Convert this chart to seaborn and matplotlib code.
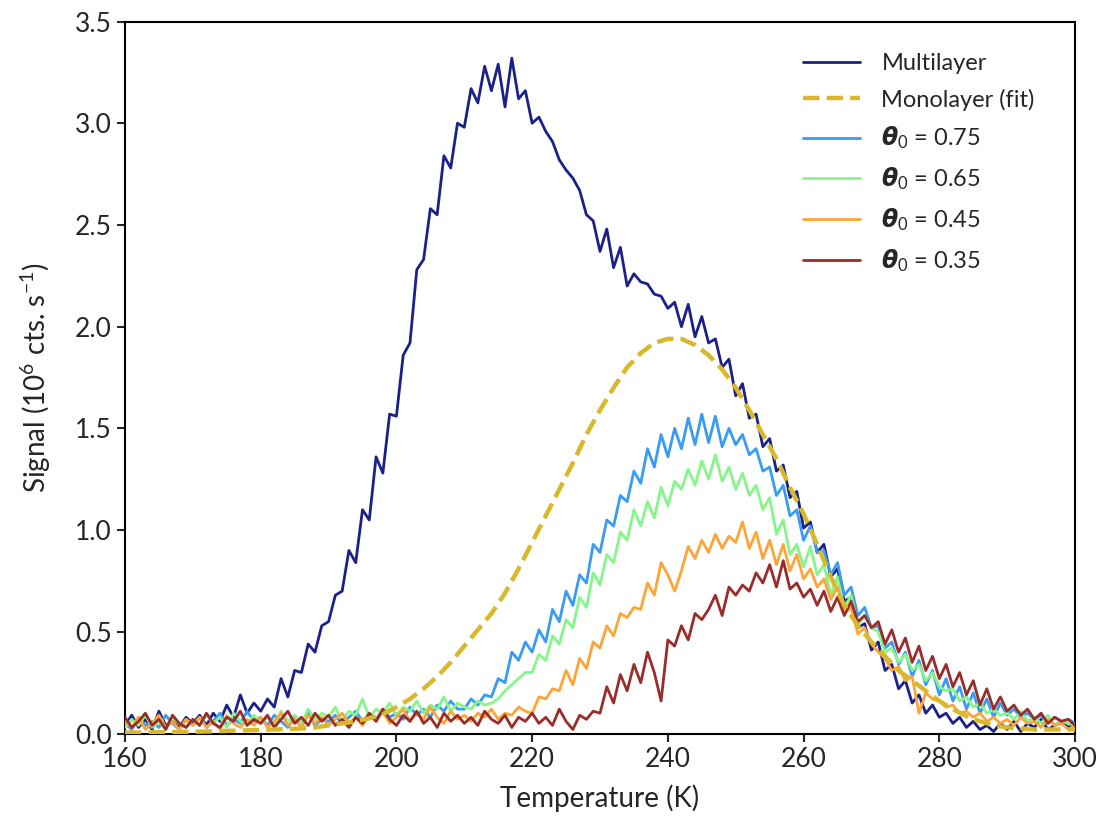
import numpy as np
import pandas as pd
import matplotlib
matplotlib.use("Agg")
import matplotlib.pyplot as plt
import seaborn as sns

# temperature grid of the measured traces (1 K steps) and of the fit (2 K steps)
temp = np.arange(160, 301, 1)
temp_fit = np.arange(160, 301, 2)

multilayer = [
    0.04, 0.09, 0.03, 0.07, 0.02, 0.11, 0.04, 0.06, 0.03, 0.08,
    0.05, 0.09, 0.04, 0.10, 0.06, 0.14, 0.08, 0.19, 0.10, 0.15,
    0.11, 0.17, 0.13, 0.27, 0.18, 0.31, 0.30, 0.44, 0.40, 0.53,
    0.55, 0.68, 0.70, 0.90, 0.84, 1.10, 1.05, 1.36, 1.28, 1.57,
    1.56, 1.86, 1.92, 2.28, 2.33, 2.58, 2.55, 2.84, 2.78, 3.00,
    2.98, 3.17, 3.10, 3.28, 3.16, 3.29, 3.08, 3.32, 3.12, 3.16,
    3.00, 3.03, 2.96, 2.91, 2.82, 2.77, 2.73, 2.67, 2.55, 2.52,
    2.37, 2.48, 2.29, 2.39, 2.20, 2.26, 2.22, 2.21, 2.16, 2.15,
    2.09, 2.12, 2.00, 2.11, 1.95, 2.05, 1.92, 1.94, 1.80, 1.84,
    1.66, 1.72, 1.55, 1.57, 1.41, 1.45, 1.29, 1.32, 1.16, 1.19,
    1.01, 1.04, 0.89, 0.93, 0.77, 0.81, 0.65, 0.67, 0.52, 0.54,
    0.41, 0.45, 0.31, 0.34, 0.22, 0.26, 0.15, 0.19, 0.10, 0.14,
    0.08, 0.10, 0.05, 0.08, 0.03, 0.06, 0.02, 0.04, 0.01, 0.05,
    0.02, 0.06, 0.01, 0.05, 0.03, 0.07, 0.02, 0.04, 0.06, 0.03,
    0.05,
]

monolayer_fit = [
    0.005, 0.005, 0.006, 0.007, 0.008, 0.009, 0.010, 0.012, 0.014, 0.016,
    0.018, 0.020, 0.022, 0.025, 0.030, 0.040, 0.050, 0.060, 0.075, 0.095,
    0.13, 0.17, 0.22, 0.28, 0.35, 0.43, 0.51, 0.59, 0.69, 0.81,
    0.94, 1.07, 1.20, 1.33, 1.47, 1.59, 1.70, 1.80, 1.87, 1.92,
    1.94, 1.94, 1.91, 1.86, 1.79, 1.70, 1.59, 1.47, 1.35, 1.21,
    1.08, 0.93, 0.77, 0.63, 0.53, 0.45, 0.38, 0.31, 0.26, 0.21,
    0.16, 0.12, 0.085, 0.06, 0.04, 0.03, 0.025, 0.02, 0.02, 0.02,
    0.02,
]

theta_075 = [
    0.05, 0.02, 0.08, 0.04, 0.06, 0.03, 0.09, 0.05, 0.02, 0.07,
    0.04, 0.08, 0.03, 0.06, 0.10, 0.04, 0.07, 0.05, 0.11, 0.06,
    0.08, 0.04, 0.09, 0.06, 0.03, 0.08, 0.05, 0.10, 0.04, 0.07,
    0.06, 0.09, 0.05, 0.08, 0.11, 0.06, 0.09, 0.07, 0.12, 0.08,
    0.10, 0.07, 0.13, 0.09, 0.12, 0.08, 0.14, 0.11, 0.16, 0.12,
    0.12, 0.17, 0.14, 0.19, 0.18, 0.27, 0.25, 0.40, 0.36, 0.45,
    0.40, 0.51, 0.45, 0.61, 0.55, 0.70, 0.63, 0.78, 0.74, 0.93,
    0.89, 1.05, 1.02, 1.17, 1.14, 1.29, 1.23, 1.40, 1.31, 1.47,
    1.36, 1.50, 1.40, 1.55, 1.42, 1.57, 1.43, 1.56, 1.41, 1.50,
    1.42, 1.47, 1.37, 1.40, 1.29, 1.31, 1.17, 1.22, 1.07, 1.10,
    0.95, 1.02, 0.89, 0.90, 0.78, 0.84, 0.68, 0.72, 0.58, 0.62,
    0.52, 0.53, 0.42, 0.45, 0.34, 0.40, 0.28, 0.36, 0.24, 0.31,
    0.19, 0.27, 0.16, 0.23, 0.12, 0.20, 0.10, 0.17, 0.08, 0.15,
    0.09, 0.12, 0.08, 0.10, 0.07, 0.09, 0.05, 0.08, 0.06, 0.07,
    0.05,
]

theta_065 = [
    0.03, 0.07, 0.04, 0.09, 0.03, 0.06, 0.02, 0.08, 0.05, 0.03,
    0.07, 0.04, 0.09, 0.05, 0.08, 0.03, 0.10, 0.06, 0.04, 0.09,
    0.05, 0.08, 0.04, 0.11, 0.06, 0.09, 0.05, 0.12, 0.07, 0.10,
    0.08, 0.13, 0.06, 0.11, 0.09, 0.17, 0.08, 0.12, 0.10, 0.15,
    0.09, 0.13, 0.11, 0.16, 0.10, 0.14, 0.12, 0.18, 0.11, 0.15,
    0.13, 0.12, 0.16, 0.14, 0.15, 0.17, 0.21, 0.24, 0.27, 0.30,
    0.30, 0.39, 0.36, 0.48, 0.44, 0.56, 0.52, 0.67, 0.62, 0.79,
    0.73, 0.88, 0.84, 0.99, 0.95, 1.10, 1.02, 1.14, 1.06, 1.21,
    1.12, 1.24, 1.20, 1.30, 1.22, 1.34, 1.25, 1.37, 1.24, 1.31,
    1.20, 1.28, 1.17, 1.22, 1.10, 1.16, 0.98, 1.05, 0.88, 0.93,
    0.82, 0.92, 0.78, 0.83, 0.68, 0.77, 0.62, 0.68, 0.53, 0.58,
    0.52, 0.50, 0.40, 0.42, 0.35, 0.39, 0.31, 0.34, 0.26, 0.30,
    0.23, 0.21, 0.22, 0.16, 0.18, 0.13, 0.15, 0.10, 0.12, 0.09,
    0.10, 0.07, 0.11, 0.06, 0.08, 0.05, 0.09, 0.04, 0.06, 0.05,
    0.04,
]

theta_045 = [
    0.06, 0.03, 0.08, 0.02, 0.05, 0.09, 0.03, 0.06, 0.02, 0.07,
    0.04, 0.08, 0.03, 0.06, 0.02, 0.09, 0.05, 0.03, 0.07, 0.04,
    0.08, 0.03, 0.06, 0.10, 0.04, 0.07, 0.03, 0.09, 0.05, 0.08,
    0.04, 0.07, 0.10, 0.05, 0.08, 0.04, 0.09, 0.06, 0.11, 0.05,
    0.08, 0.12, 0.06, 0.10, 0.07, 0.13, 0.08, 0.05, 0.11, 0.07,
    0.09, 0.06, 0.10, 0.08, 0.12, 0.07, 0.10, 0.09, 0.13, 0.11,
    0.10, 0.18, 0.17, 0.22, 0.21, 0.31, 0.24, 0.37, 0.32, 0.45,
    0.42, 0.53, 0.48, 0.59, 0.57, 0.62, 0.61, 0.74, 0.68, 0.84,
    0.78, 0.70, 0.80, 0.92, 0.86, 0.95, 0.89, 0.98, 0.91, 0.97,
    0.94, 1.04, 0.91, 0.99, 0.86, 0.95, 0.83, 0.93, 0.80, 0.88,
    0.76, 0.81, 0.72, 0.76, 0.66, 0.72, 0.59, 0.62, 0.49, 0.52,
    0.44, 0.40, 0.37, 0.31, 0.33, 0.26, 0.28, 0.10, 0.20, 0.17,
    0.16, 0.13, 0.14, 0.10, 0.11, 0.08, 0.10, 0.06, 0.08, 0.05,
    0.07, 0.04, 0.08, 0.05, 0.06, 0.03, 0.07, 0.04, 0.05, 0.02,
    0.04,
]

theta_035 = [
    0.08, 0.03, 0.06, 0.10, 0.04, 0.07, 0.02, 0.09, 0.05, 0.03,
    0.07, 0.04, 0.10, 0.05, 0.03, 0.08, 0.06, 0.11, 0.04, 0.07,
    0.05, 0.09, 0.03, 0.07, 0.11, 0.05, 0.08, 0.04, 0.10, 0.06,
    0.09, 0.04, 0.07, 0.03, 0.08, 0.05, 0.10, 0.06, 0.12, 0.07,
    0.04, 0.09, 0.06, 0.11, 0.05, 0.08, 0.03, 0.10, 0.06, 0.09,
    0.05, 0.08, 0.04, 0.11, 0.07, 0.05, 0.09, 0.03, 0.08, 0.06,
    0.10, 0.05, 0.08, 0.04, 0.12, 0.06, 0.02, 0.09, 0.07, 0.11,
    0.10, 0.23, 0.15, 0.29, 0.21, 0.34, 0.25, 0.40, 0.30, 0.16,
    0.46, 0.43, 0.53, 0.46, 0.59, 0.56, 0.61, 0.68, 0.58, 0.72,
    0.68, 0.73, 0.70, 0.79, 0.74, 0.83, 0.72, 0.85, 0.71, 0.74,
    0.67, 0.71, 0.63, 0.70, 0.60, 0.67, 0.58, 0.65, 0.55, 0.58,
    0.52, 0.55, 0.44, 0.51, 0.40, 0.47, 0.35, 0.43, 0.31, 0.38,
    0.27, 0.34, 0.23, 0.30, 0.19, 0.26, 0.14, 0.22, 0.12, 0.18,
    0.11, 0.14, 0.09, 0.12, 0.07, 0.10, 0.05, 0.08, 0.06, 0.07,
    0.04,
]

labels = ["Multilayer", "Monolayer (fit)",
          r"$\boldsymbol{\theta}_0$ = 0.75", r"$\boldsymbol{\theta}_0$ = 0.65",
          r"$\boldsymbol{\theta}_0$ = 0.45", r"$\boldsymbol{\theta}_0$ = 0.35"]
colors = ["#1c2089", "#d8b92c", "#3a9bf5", "#86f58a", "#ffa436", "#9a2d2a"]

sns.set_style("ticks")
plt.rcParams["font.family"] = ["Lato", "DejaVu Sans"]
plt.rcParams["mathtext.fontset"] = "custom"
plt.rcParams["mathtext.rm"] = "Lato"
plt.rcParams["mathtext.it"] = "Lato:italic"
plt.rcParams["mathtext.bf"] = "Lato:bold"
plt.rcParams["mathtext.bfit"] = "DejaVu Sans:bold:italic"
plt.rcParams["mathtext.fallback"] = "stixsans"

fig = plt.figure(figsize=(11.06, 8.27), dpi=100)
ax = fig.add_axes([0.113, 0.113, 0.859, 0.861])

traces = [multilayer, None, theta_075, theta_065, theta_045, theta_035]
for i, ys in enumerate(traces):
    if ys is None:
        continue
    df = pd.DataFrame({"T": temp, "signal": ys})
    sns.lineplot(data=df, x="T", y="signal", ax=ax, color=colors[i],
                 linewidth=2.0, label=labels[i], zorder=2 + i)

df_fit = pd.DataFrame({"T": temp_fit, "signal": monolayer_fit})
sns.lineplot(data=df_fit, x="T", y="signal", ax=ax, color=colors[1],
             linewidth=3.2, linestyle="--", label=labels[1], zorder=10)

# legend in the original order
handles, labs = ax.get_legend_handles_labels()
order = [labs.index(l) for l in labels]
ax.legend([handles[k] for k in order], [labs[k] for k in order],
          loc="upper right", frameon=False, fontsize=17,
          handlelength=2.4, handletextpad=0.9, labelspacing=0.6,
          bbox_to_anchor=(0.98, 0.985))

ax.set_xlim(160, 300)
ax.set_ylim(0, 3.5)
ax.set_xticks(np.arange(160, 301, 20))
ax.set_yticks(np.arange(0, 3.51, 0.5))
ax.set_xlabel("Temperature (K)", fontsize=20, labelpad=9)
ax.set_ylabel(r"Signal (10$^6$ cts. s$^{-1}$)", fontsize=20, labelpad=16)
ax.tick_params(axis="both", labelsize=19, width=1.5, length=6, direction="out")
for s in ax.spines.values():
    s.set_linewidth(1.5)
    s.set_color("black")

fig.savefig("out.png", dpi=100)
